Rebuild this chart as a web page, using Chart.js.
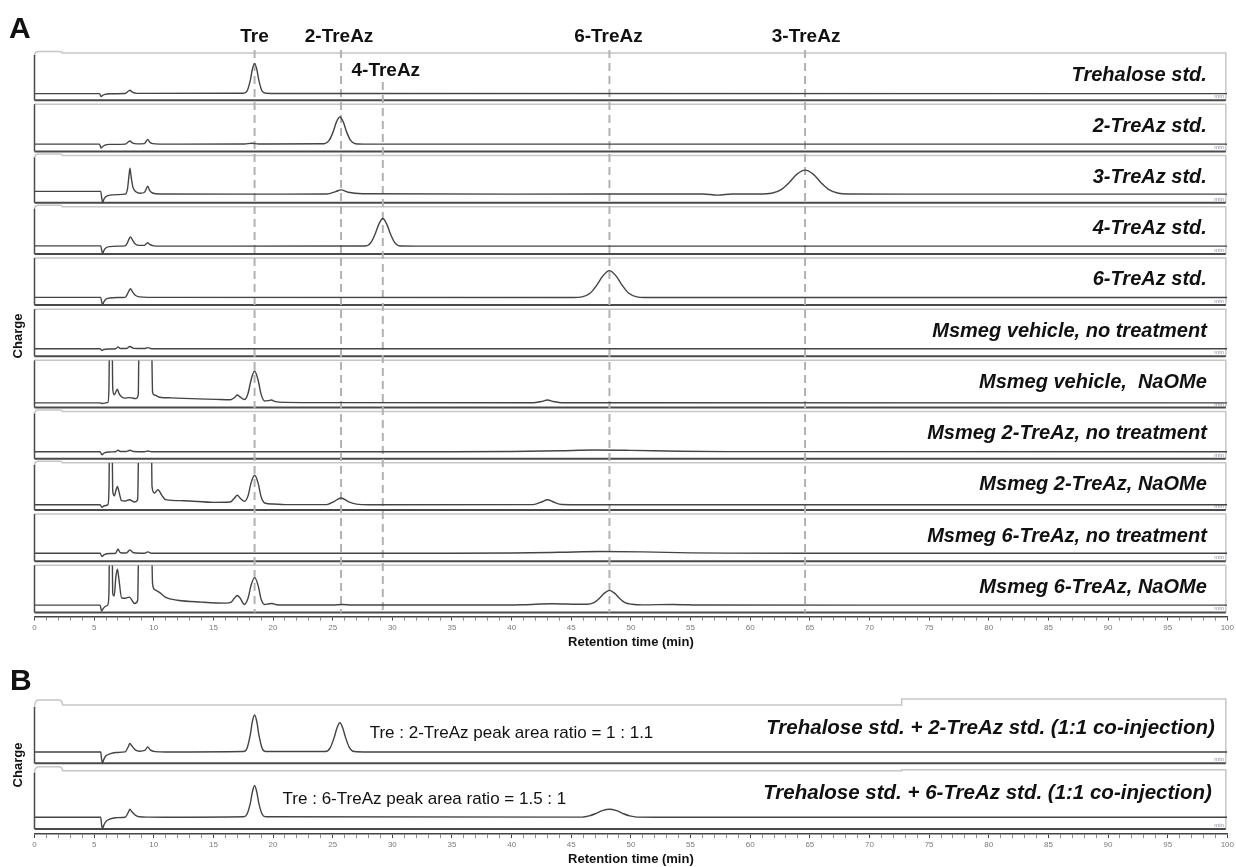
<!DOCTYPE html>
<html>
<head>
<meta charset="utf-8">
<title>TreAz HPAEC-PAD chromatograms</title>
<script src="https://cdn.jsdelivr.net/npm/chart.js@4.4.1/dist/chart.umd.min.js"></script>
<style>
    html, body { margin: 0; padding: 0; background: #fff; }
    #wrap { position: relative; width: 1236px; height: 867px; }
    canvas { position: absolute; left: 0; }
    #chartA { top: 0; }
    #chartB { top: 655px; }
</style>
</head>
<body>
<div id="wrap">
    <canvas id="chartA" width="1236" height="655"></canvas>
    <canvas id="chartB" width="1236" height="212"></canvas>
</div>
<script>
// ===== DATA (retention time in min, detector signal in % of strip height) =====

const sampleNamesA = [
    'Trehalose std.', '2-TreAz std.', '3-TreAz std.', '4-TreAz std.', '6-TreAz std.',
    'Msmeg vehicle, no treatment', 'Msmeg vehicle,  NaOMe',
    'Msmeg 2-TreAz, no treatment', 'Msmeg 2-TreAz, NaOMe',
    'Msmeg 6-TreAz, no treatment', 'Msmeg 6-TreAz, NaOMe'
];
const sampleNamesB = [
    'Trehalose std. + 2-TreAz std. (1:1 co-injection)',
    'Trehalose std. + 6-TreAz std. (1:1 co-injection)'
];
const ratioNotesB = [
    'Tre : 2-TreAz peak area ratio = 1 : 1.1',
    'Tre : 6-TreAz peak area ratio = 1.5 : 1'
];
const ratioNoteTimes = [28.1, 20.8];

const peakNames = ['Tre', '2-TreAz', '4-TreAz', '6-TreAz', '3-TreAz'];
const peakTimes = [18.45, 25.7, 29.2, 48.2, 64.6];

const timeMin = 0;
const timeMax = 100;
const majorTickEvery = 5;

const traceTreStd = [
    [0, 14], [5.45, 14], [5.58, 8], [5.7, 10], [5.9, 12.5], [6.3, 13.8], [7.6, 14.2], [7.85, 19], [8.0, 21],
    [8.2, 17], [8.6, 14.5], [17.5, 14.6], [17.8, 18.5], [18.1, 43], [18.25, 64], [18.45, 78], [18.65, 64],
    [18.8, 43], [19.1, 18.5], [19.4, 14.6], [20.5, 14.2], [100, 14]
];
const trace2TreAzStd = [
    [0, 15.5], [5.45, 15.5], [5.58, 7], [5.7, 10], [5.9, 13.5], [6.3, 15], [7.6, 15.5], [7.85, 20], [8.0, 22],
    [8.2, 18], [8.6, 16], [9.2, 16.5], [9.35, 21], [9.5, 25.5], [9.65, 20], [9.9, 16.5], [10.5, 15.5],
    [17.6, 15.8], [18.2, 17.5], [18.8, 15.8], [24.3, 16.4], [24.7, 23.3], [25.05, 42.5], [25.3, 61.5],
    [25.6, 73], [25.9, 61.5], [26.15, 42.5], [26.5, 23.3], [26.9, 16.4], [28, 15.5], [100, 15.5]
];
const trace3TreAzStd = [
    [0, 24], [5.55, 24], [5.65, 8], [5.72, 0], [5.8, 6], [5.95, 12], [6.3, 16], [7.0, 17], [7.6, 18],
    [7.8, 30], [7.9, 52], [8.0, 73], [8.1, 55], [8.25, 33], [8.5, 23], [8.9, 20], [9.2, 21.5], [9.35, 28],
    [9.5, 35], [9.65, 26], [9.9, 20.5], [10.5, 18.5], [20, 18], [24.5, 18.5], [25.3, 24], [25.7, 27],
    [26.3, 22], [27.5, 19], [40, 18], [56, 18.5], [57.3, 16], [58.5, 18.5], [60.8, 18.3], [61.8, 20],
    [62.6, 27.7], [63.3, 43.5], [63.9, 60], [64.6, 69], [65.3, 60], [65.9, 43.5], [66.6, 27.7], [67.4, 20],
    [68.2, 18.3], [75, 18], [100, 18]
];
const trace4TreAzStd = [
    [0, 17], [5.55, 17], [5.65, 6], [5.72, 0], [5.8, 6], [5.95, 12], [6.3, 15.5], [7.0, 16.5], [7.6, 17],
    [7.8, 24], [7.95, 33], [8.05, 36], [8.2, 30], [8.45, 21], [8.8, 18], [9.2, 18], [9.4, 22], [9.5, 23.5],
    [9.65, 20], [10, 17], [10.5, 16.5], [27.7, 16.7], [28.2, 24], [28.6, 45], [28.87, 63], [29.2, 75],
    [29.53, 63], [29.8, 45], [30.2, 24], [30.7, 16.7], [32, 16.5], [100, 16.5]
];
const trace6TreAzStd = [
    [0, 16.5], [5.55, 16.5], [5.65, 5], [5.72, 1], [5.8, 6], [5.95, 12], [6.3, 15], [7.0, 16], [7.6, 16.5],
    [7.8, 24], [7.95, 32], [8.05, 35], [8.2, 29], [8.45, 21], [8.8, 17.5], [9.5, 16.5], [45.2, 16.2],
    [45.9, 17.5], [46.6, 25.7], [47.2, 44.5], [47.65, 62], [48.2, 73], [48.75, 62], [49.2, 44.5],
    [49.8, 25.7], [50.5, 17.5], [51.2, 16.2], [53, 16], [100, 16]
];
const traceVehicleNone = [
    [0, 16], [5.5, 16], [5.65, 12.5], [5.8, 14.5], [6.2, 15.5], [6.8, 16], [7.0, 20], [7.2, 16.5],
    [7.7, 16.5], [8.0, 21], [8.3, 17], [9.2, 16.5], [9.5, 18.5], [9.8, 16.2], [10.5, 16], [100, 16]
];
const traceVehicleNaOMe = [
    [0, 10], [5.5, 10], [5.65, 8.5], [5.85, 9.5], [6.15, 11], [6.24, 40], [6.3, 160], [6.5, 160],
    [6.56, 40], [6.68, 27], [6.82, 33], [6.95, 39], [7.08, 30], [7.3, 23], [7.6, 20], [7.9, 21],
    [8.15, 20.5], [8.5, 19], [8.7, 28], [8.77, 160], [9.8, 160], [9.9, 32], [10.1, 26], [10.5, 22],
    [11.5, 20.5], [12.5, 19.5], [15.2, 17.4], [16.4, 16.5], [16.8, 22], [17.0, 26.7], [17.25, 22],
    [17.6, 17], [17.9, 30], [18.15, 58], [18.45, 77.6], [18.75, 58], [19.0, 28], [19.3, 14], [19.6, 14.8],
    [19.85, 16], [20.2, 12.5], [21, 11], [25, 10.5], [41.8, 10.3], [42.5, 13], [43.0, 16], [43.5, 13],
    [44.2, 10.3], [100, 10]
];
const trace2TreAzNone = [
    [0, 15], [5.5, 15], [5.65, 8.5], [5.85, 12.5], [6.3, 14.5], [6.8, 15], [7.0, 18], [7.2, 15.5],
    [7.7, 15.5], [8.0, 18], [8.3, 15.5], [9.2, 15], [9.5, 16.5], [9.8, 15], [35, 15], [40, 15.5],
    [44, 17], [47, 18.6], [50, 17.8], [54, 16], [58, 15.2], [100, 15]
];
const trace2TreAzNaOMe = [
    [0, 11.3], [5.5, 11.3], [5.65, 5.7], [5.85, 9], [6.15, 11.5], [6.24, 40], [6.3, 160], [6.5, 160],
    [6.56, 40], [6.7, 30], [6.83, 42], [6.95, 50], [7.07, 40], [7.3, 19.8], [7.6, 19], [7.95, 21.9],
    [8.4, 17], [8.65, 22], [8.75, 160], [9.8, 160], [9.85, 50], [10.05, 36], [10.35, 43], [10.7, 30],
    [11, 22], [12.5, 19.8], [15, 16.3], [16.4, 17], [16.75, 25], [17.0, 31.3], [17.25, 25], [17.6, 18.5],
    [17.9, 30], [18.15, 57], [18.45, 73.8], [18.75, 57], [19.0, 28], [19.3, 14.9], [20, 12.8], [21, 11.5],
    [24.5, 11.5], [25.1, 18], [25.7, 25.5], [26.3, 18], [27, 12.5], [28, 11.3], [41.8, 11.5], [42.5, 17],
    [43.0, 21.9], [43.5, 17], [44.2, 11.8], [46, 11.3], [100, 11.3]
];
const trace6TreAzNone = [
    [0, 17], [5.5, 17], [5.65, 10], [5.85, 14], [6.3, 16.5], [6.8, 17], [7.0, 25.5], [7.2, 18],
    [7.7, 17.5], [8.0, 24], [8.3, 18], [9.2, 17], [9.5, 19.8], [9.8, 17], [35, 17], [40, 17.5],
    [44, 19], [47.5, 20.6], [51, 19.8], [55, 17.8], [58, 17.2], [100, 17]
];
const trace6TreAzNaOMe = [
    [0, 15.5], [5.5, 15.5], [5.62, 2.8], [5.75, 8], [5.95, 13], [6.15, 16], [6.24, 40], [6.3, 160],
    [6.5, 160], [6.56, 40], [6.68, 35], [6.82, 75], [6.95, 91.5], [7.08, 70], [7.3, 31], [7.6, 30],
    [7.95, 32.6], [8.4, 19], [8.65, 26], [8.75, 160], [9.8, 160], [9.9, 60], [10.1, 48], [10.5, 42],
    [11, 32], [12, 26], [14, 22], [16, 19.8], [16.5, 22], [16.75, 30], [17.0, 36], [17.25, 30], [17.6, 17],
    [17.9, 30], [18.15, 57], [18.45, 73.8], [18.75, 57], [19.0, 28], [19.3, 17], [19.6, 18], [19.9, 19],
    [20.3, 16.5], [21, 15.7], [25, 15.7], [25.8, 17], [26.6, 15.7], [37, 15.7], [41, 16.5], [43.4, 18.5],
    [45.5, 17.5], [46.3, 17.4], [46.9, 21], [47.4, 31], [47.75, 40.4], [48.2, 46.8], [48.65, 40.4],
    [49.0, 31], [49.5, 21], [50.1, 17.4], [51, 16.2], [53.5, 17], [56, 15.7], [100, 15.5]
];
const traceCoinj2 = [
    [0, 19.5], [5.55, 19.5], [5.62, 8], [5.7, 0], [5.78, 5], [5.95, 12], [6.3, 16], [6.8, 18.5], [7.6, 19.5],
    [7.85, 28], [8.0, 34], [8.15, 30], [8.45, 23], [8.8, 20.7], [9.25, 22], [9.5, 28], [9.7, 23], [10.1, 20],
    [11, 19.5], [17.5, 20.2], [17.8, 25], [18.1, 50], [18.25, 70], [18.45, 82.8], [18.65, 70], [18.8, 50],
    [19.1, 25], [19.4, 20.2], [24.4, 20.2], [24.8, 27], [25.15, 46], [25.35, 60], [25.6, 69.5], [25.85, 60],
    [26.05, 46], [26.4, 27], [26.8, 20.2], [28, 19.5], [100, 19.5]
];
const traceCoinj6 = [
    [0, 20.3], [5.55, 20.3], [5.62, 8], [5.7, 0], [5.78, 5], [5.95, 12], [6.3, 17], [6.8, 19.5], [7.6, 20.3],
    [7.85, 28], [8.0, 34], [8.15, 30], [8.45, 24], [8.8, 21], [9.5, 20.5], [11, 20.3], [17.5, 21], [17.8, 25],
    [18.1, 45], [18.25, 62], [18.45, 74.6], [18.65, 62], [18.8, 45], [19.1, 25], [19.4, 21], [45.9, 20.5],
    [46.5, 22.5], [47.1, 27], [47.6, 31.5], [48.2, 34], [48.8, 31.5], [49.3, 27], [49.9, 22.5], [50.5, 20.5],
    [52, 20.3], [100, 20.3]
];

const tracesA = [
    traceTreStd, trace2TreAzStd, trace3TreAzStd, trace4TreAzStd, trace6TreAzStd,
    traceVehicleNone, traceVehicleNaOMe, trace2TreAzNone, trace2TreAzNaOMe,
    trace6TreAzNone, trace6TreAzNaOMe
];
const tracesB = [traceCoinj2, traceCoinj6];

// ===== STYLE =====

const FONT = "'Liberation Sans', Arial, Helvetica, sans-serif";
const TRACE_COLOR = '#444';

// ===== STRIP PLUGIN: boxes, per-strip clipping, marker lines and texts =====

const stripsPlugin = {
    id: 'strips',

    beforeDatasetsDraw(chart, args, opts) {
        const ctx = chart.ctx;
        const xs = chart.scales.x;
        const left = chart.chartArea.left;
        const right = xs.getPixelForValue(timeMax) - 1.5;
        let lastBottom = 0;

        ctx.save();
        chart.data.datasets.forEach((ds, i) => {
            const ys = chart.scales[ds.yAxisID];
            const top = ys.getPixelForValue(100);
            const bottom = ys.getPixelForValue(0);
            const tab = opts.tabs[i] || 0;
            const step = opts.steps ? opts.steps[i] : 0;
            const stepX = xs.getPixelForValue(opts.stepAt || timeMax);
            lastBottom = bottom;

            // light frame: top edge (with the tab at the left) and right edge
            ctx.strokeStyle = '#c6c6c6';
            ctx.lineWidth = 1.5;
            ctx.beginPath();
            if (tab) {
                ctx.moveTo(left, top + 3);
                ctx.quadraticCurveTo(left, top - tab, left + 4, top - tab);
                ctx.lineTo(left + 24, top - tab);
                ctx.quadraticCurveTo(left + 28, top - tab, left + 28, top);
            } else {
                ctx.moveTo(left, top);
            }
            if (step) {
                ctx.lineTo(stepX, top);
                ctx.lineTo(stepX, top - step);
                ctx.lineTo(right, top - step);
                ctx.lineTo(right, bottom);
            } else {
                ctx.lineTo(right, top);
                ctx.lineTo(right, bottom);
            }
            ctx.stroke();

            // dark frame: left and bottom edges
            ctx.strokeStyle = '#4a4a4a';
            ctx.lineWidth = 1.5;
            ctx.beginPath();
            ctx.moveTo(left, top + (tab ? 2 : 0));
            ctx.lineTo(left, bottom);
            ctx.stroke();
            ctx.lineWidth = 2;
            ctx.beginPath();
            ctx.moveTo(left, bottom);
            ctx.lineTo(right, bottom);
            ctx.stroke();

            ctx.fillStyle = '#8a8a98';
            ctx.font = `6px ${FONT}`;
            ctx.textAlign = 'right';
            ctx.textBaseline = 'alphabetic';
            ctx.fillText('min', right - 2, bottom - 2);
        });

        // dashed retention markers
        if (opts.markers) {
            ctx.setLineDash([8, 5]);
            ctx.strokeStyle = '#b2b2b2';
            ctx.lineWidth = 2;
            peakTimes.forEach((t, i) => {
                const x = xs.getPixelForValue(t);
                ctx.beginPath();
                ctx.moveTo(x, opts.markers.from[i]);
                ctx.lineTo(x, lastBottom);
                ctx.stroke();
            });
            ctx.setLineDash([]);
        }
        ctx.restore();
    },

    beforeDatasetDraw(chart, args) {
        const ys = chart.scales[args.meta.yAxisID];
        const top = ys.getPixelForValue(100);
        const ctx = chart.ctx;
        ctx.save();
        ctx.beginPath();
        ctx.rect(chart.chartArea.left, top, chart.chartArea.width, ys.getPixelForValue(0) - top + 1);
        ctx.clip();
    },

    afterDatasetDraw(chart) {
        chart.ctx.restore();
    },

    afterDraw(chart, args, opts) {
        const ctx = chart.ctx;
        const xs = chart.scales.x;
        const right = xs.getPixelForValue(timeMax) - 1.5;

        ctx.save();
        ctx.fillStyle = '#111';
        ctx.textBaseline = 'alphabetic';

        // sample names, right-aligned in each strip
        ctx.textAlign = 'right';
        ctx.font = `italic bold ${opts.nameSize}px ${FONT}`;
        chart.data.datasets.forEach((ds, i) => {
            const top = chart.scales[ds.yAxisID].getPixelForValue(100);
            ctx.fillText(ds.label, right - opts.nameInset[i], top + opts.nameBaseline);
        });

        // notes inside strips
        if (opts.notes) {
            ctx.textAlign = 'left';
            ctx.font = `${opts.noteSize}px ${FONT}`;
            opts.notes.forEach((text, i) => {
                const top = chart.scales['y' + i].getPixelForValue(100);
                ctx.fillText(text, xs.getPixelForValue(opts.noteTimes[i]), top + opts.noteBaseline);
            });
        }

        // peak names above the markers
        if (opts.markers) {
            ctx.textAlign = 'center';
            ctx.font = `bold 19px ${FONT}`;
            peakNames.forEach((name, i) => {
                const x = xs.getPixelForValue(peakTimes[i]) + opts.markers.dx[i];
                ctx.fillText(name, x, opts.markers.labelY[i]);
            });
        }

        // panel letter
        ctx.textAlign = 'left';
        ctx.font = `bold 30px ${FONT}`;
        ctx.fillText(opts.letter, opts.letterX, opts.letterY);

        // y title
        ctx.translate(18, opts.chargeY);
        ctx.rotate(-Math.PI / 2);
        ctx.textAlign = 'center';
        ctx.textBaseline = 'middle';
        ctx.font = `bold 13px ${FONT}`;
        ctx.fillText('Charge', 0, 0);
        ctx.restore();
    }
};

// ===== CHART BUILDERS =====

function stackedAxes(count, min, max) {
    const scales = {};
    for (let i = 0; i < count; i++) {
        scales['y' + i] = {
            type: 'linear', display: false, position: 'left',
            stack: 'strips', stackWeight: 1, weight: count - i,
            min: min, max: max, offset: false
        };
    }
    return scales;
}

function timeAxis(height, titleBottom) {
    return {
        type: 'linear', position: 'bottom', min: timeMin, max: timeMax,
        afterFit: (scale) => { scale.height = height; },
        border: { display: true, color: '#454545', width: 1.5 },
        grid: {
            display: true, drawOnChartArea: false, drawTicks: true, tickLength: 4, color: '#555',
            tickColor: (c) => (c.tick && Math.round(c.tick.value) % majorTickEvery === 0 ? '#444' : '#888')
        },
        ticks: {
            stepSize: 1, autoSkip: false, maxRotation: 0, minRotation: 0, padding: 2,
            color: '#7a7a7a', font: { size: 8, family: FONT },
            callback: (v) => (Math.round(v) % majorTickEvery === 0 ? Math.round(v) : '')
        },
        title: {
            display: true, text: 'Retention time (min)', color: '#111',
            font: { size: 13, weight: 'bold', family: FONT },
            padding: { top: 0, bottom: titleBottom }
        }
    };
}

function traceDatasets(names, traces) {
    return traces.map((trace, i) => ({
        label: names[i],
        data: trace,
        yAxisID: 'y' + i,
        borderColor: TRACE_COLOR,
        borderWidth: 1.4,
        pointRadius: 0,
        fill: false,
        cubicInterpolationMode: 'monotone'
    }));
}

function baseOptions(padding, scales, strips) {
    return {
        responsive: false,
        animation: false,
        devicePixelRatio: 1,
        parsing: true,
        layout: { padding: padding },
        scales: scales,
        plugins: {
            legend: { display: false },
            tooltip: { enabled: false },
            strips: strips
        }
    };
}

// Panel A: eleven strips, 0 = strip floor, 100 = strip ceiling
new Chart(document.getElementById('chartA'), {
    type: 'line',
    data: { datasets: traceDatasets(sampleNamesA, tracesA) },
    options: baseOptions(
        { left: 34.5, right: 6.5, top: 53, bottom: 0 },
        Object.assign({ x: timeAxis(38.5, 5) }, stackedAxes(tracesA.length, -8.5, 100)),
        {
            tabs: [1.5, 0, 1.5, 1.5, 0, 0, 0, 1.5, 1.5, 0, 0],
            nameSize: 20,
            nameInset: Array(tracesA.length).fill(19),
            nameBaseline: 27.5,
            markers: {
                from: [50, 50, 82, 50, 50],
                labelY: [42, 42, 76, 42, 42],
                dx: [0, -2, 3, -1, 1]
            },
            letter: 'A', letterX: 9, letterY: 38,
            chargeY: 336
        }
    ),
    plugins: [stripsPlugin]
});

// Panel B: co-injections
new Chart(document.getElementById('chartB'), {
    type: 'line',
    data: { datasets: traceDatasets(sampleNamesB, tracesB) },
    options: baseOptions(
        { left: 34.5, right: 6.5, top: 47.5, bottom: 0 },
        Object.assign({ x: timeAxis(33, 0) }, stackedAxes(tracesB.length, -8.5, 104.3)),
        {
            tabs: [5, 4],
            steps: [6, 1],
            stepAt: 72.7,
            nameSize: 20.5,
            nameInset: [11, 14],
            nameBaseline: 28.5,
            notes: ratioNotesB,
            noteTimes: ratioNoteTimes,
            noteSize: 17,
            noteBaseline: 33,
            letter: 'B', letterX: 10, letterY: 35,
            chargeY: 110
        }
    ),
    plugins: [stripsPlugin]
});
</script>
</body>
</html>
